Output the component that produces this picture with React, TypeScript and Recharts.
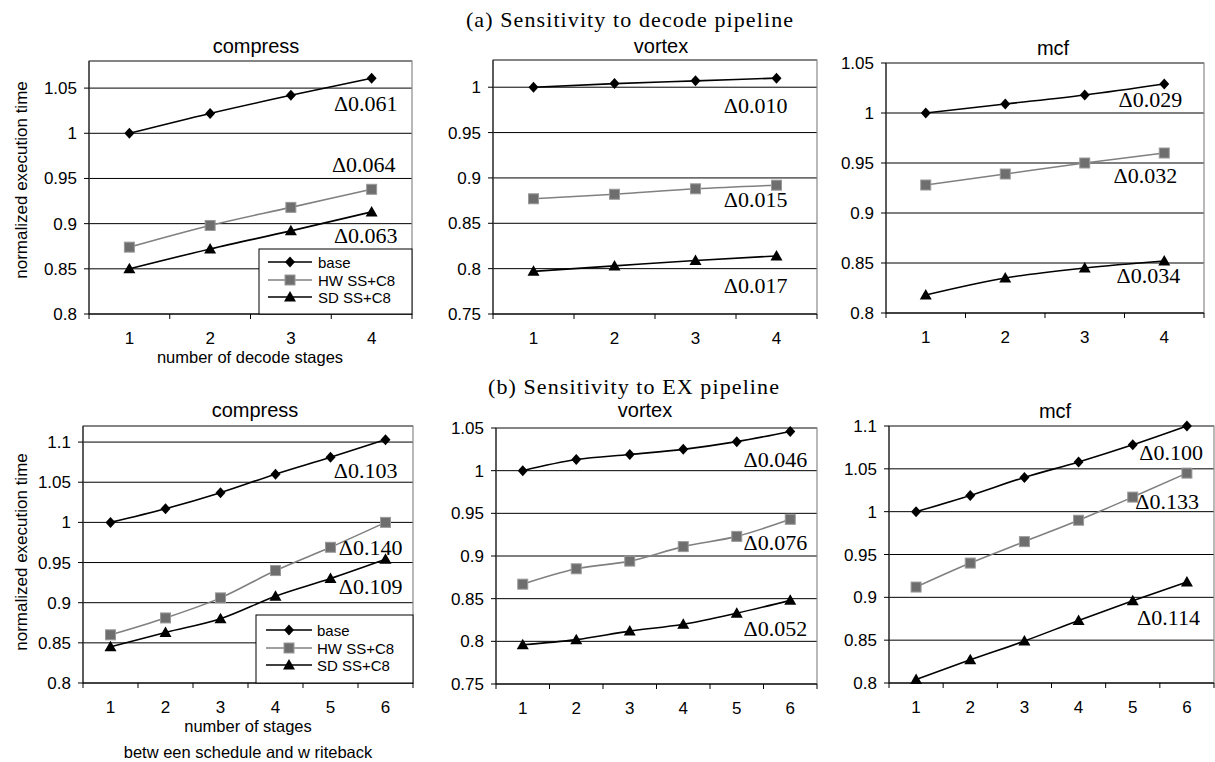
import React from "react";
import { LineChart, Line, XAxis, YAxis, CartesianGrid, ReferenceArea } from "recharts";

const SANS = "'Liberation Sans', Arial, sans-serif";
const SERIF = "'Liberation Serif', 'Times New Roman', serif";

// x categories
const decodeStages = [1, 2, 3, 4];
const exStages = [1, 2, 3, 4, 5, 6];

const seriesNames = ["base", "HW SS+C8", "SD SS+C8"];

// (a) decode pipeline
const compressDecodeBase = [1.0, 1.022, 1.042, 1.061];
const compressDecodeHW = [0.874, 0.898, 0.918, 0.938];
const compressDecodeSD = [0.85, 0.872, 0.892, 0.913];
const compressDecodeDelta = ["Δ0.061", "Δ0.064", "Δ0.063"];

const vortexDecodeBase = [1.0, 1.004, 1.007, 1.01];
const vortexDecodeHW = [0.877, 0.882, 0.888, 0.892];
const vortexDecodeSD = [0.797, 0.803, 0.809, 0.814];
const vortexDecodeDelta = ["Δ0.010", "Δ0.015", "Δ0.017"];

const mcfDecodeBase = [1.0, 1.009, 1.018, 1.029];
const mcfDecodeHW = [0.928, 0.939, 0.95, 0.96];
const mcfDecodeSD = [0.818, 0.835, 0.845, 0.852];
const mcfDecodeDelta = ["Δ0.029", "Δ0.032", "Δ0.034"];

// (b) EX pipeline
const compressExBase = [1.0, 1.017, 1.037, 1.06, 1.081, 1.103];
const compressExHW = [0.86, 0.881, 0.906, 0.94, 0.969, 1.0];
const compressExSD = [0.845, 0.863, 0.88, 0.908, 0.93, 0.954];
const compressExDelta = ["Δ0.103", "Δ0.140", "Δ0.109"];

const vortexExBase = [1.0, 1.013, 1.019, 1.025, 1.034, 1.046];
const vortexExHW = [0.867, 0.885, 0.894, 0.911, 0.923, 0.943];
const vortexExSD = [0.796, 0.802, 0.812, 0.82, 0.833, 0.848];
const vortexExDelta = ["Δ0.046", "Δ0.076", "Δ0.052"];

const mcfExBase = [1.0, 1.019, 1.04, 1.058, 1.078, 1.1];
const mcfExHW = [0.912, 0.94, 0.965, 0.99, 1.017, 1.045];
const mcfExSD = [0.804, 0.827, 0.849, 0.873, 0.896, 0.918];
const mcfExDelta = ["Δ0.100", "Δ0.133", "Δ0.114"];

// y axes
const ticksCompressA = [0.8, 0.85, 0.9, 0.95, 1, 1.05];
const ticksVortexA = [0.75, 0.8, 0.85, 0.9, 0.95, 1];
const ticksMcfA = [0.8, 0.85, 0.9, 0.95, 1, 1.05];
const ticksCompressB = [0.8, 0.85, 0.9, 0.95, 1, 1.05, 1.1];
const ticksVortexB = [0.75, 0.8, 0.85, 0.9, 0.95, 1, 1.05];
const ticksMcfB = [0.8, 0.85, 0.9, 0.95, 1, 1.05, 1.1];

const panels = [
  { title: "compress", stages: decodeStages, series: [compressDecodeBase, compressDecodeHW, compressDecodeSD], deltas: compressDecodeDelta, domain: [0.8, 1.08], ticks: ticksCompressA },
  { title: "vortex", stages: decodeStages, series: [vortexDecodeBase, vortexDecodeHW, vortexDecodeSD], deltas: vortexDecodeDelta, domain: [0.75, 1.03], ticks: ticksVortexA },
  { title: "mcf", stages: decodeStages, series: [mcfDecodeBase, mcfDecodeHW, mcfDecodeSD], deltas: mcfDecodeDelta, domain: [0.8, 1.05], ticks: ticksMcfA },
  { title: "compress", stages: exStages, series: [compressExBase, compressExHW, compressExSD], deltas: compressExDelta, domain: [0.8, 1.12], ticks: ticksCompressB },
  { title: "vortex", stages: exStages, series: [vortexExBase, vortexExHW, vortexExSD], deltas: vortexExDelta, domain: [0.75, 1.05], ticks: ticksVortexB },
  { title: "mcf", stages: exStages, series: [mcfExBase, mcfExHW, mcfExSD], deltas: mcfExDelta, domain: [0.8, 1.1], ticks: ticksMcfB },
];

// layout: plot rectangle, title spot, delta label offsets from last point
const layouts = [
  { l: 89, t: 61, r: 412, b: 314, titleX: 256, titleY: 53, off: [[26, 33], [24, -17], [26, 31]] },
  { l: 493, t: 60, r: 817, b: 314, titleX: 661, titleY: 53, off: [[11, 35], [11, 22], [11, 37]] },
  { l: 886, t: 63, r: 1204, b: 313, titleX: 1053, titleY: 55, off: [[18, 23], [13, 30], [16, 22]] },
  { l: 83, t: 426, r: 413, b: 683, titleX: 255, titleY: 417, off: [[12, 38], [17, 33], [17, 35]] },
  { l: 496, t: 428, r: 817, b: 684, titleX: 645, titleY: 417, off: [[17, 36], [17, 31], [17, 36]] },
  { l: 889, t: 426, r: 1214, b: 683, titleX: 1055, titleY: 418, off: [[16, 34], [12, 36], [13, 43]] },
];

const styles = [
  { key: "base", stroke: "#000", shape: "diamond" },
  { key: "hw", stroke: "#808080", shape: "square" },
  { key: "sd", stroke: "#000", shape: "triangle" },
];

const legends = [
  { panel: 0, x: 259, y: 249, w: 153, h: 65, rows: [262, 280, 297], x1: 268, x2: 312, tx: 318 },
  { panel: 3, x: 256, y: 615, w: 157, h: 68, rows: [630, 648, 665], x1: 266, x2: 312, tx: 317 },
];

function Marker({ shape, cx, cy }: { shape: string; cx: number; cy: number }) {
  if (shape === "diamond")
    return <polygon points={`${cx},${cy - 5.5} ${cx + 5},${cy} ${cx},${cy + 5.5} ${cx - 5},${cy}`} fill="#000" />;
  if (shape === "square")
    return <rect x={cx - 5} y={cy - 5} width={10} height={10} fill="#6e6e6e" stroke="#9a9a9a" strokeWidth={1} />;
  return <polygon points={`${cx},${cy - 6} ${cx + 6},${cy + 4.5} ${cx - 6},${cy + 4.5}`} fill="#000" />;
}

function Panel({ idx }: { idx: number }) {
  const p = panels[idx];
  const lay = layouts[idx];
  const n = p.stages.length;
  const data = p.stages.map((x, i) => ({ x, base: p.series[0][i], hw: p.series[1][i], sd: p.series[2][i] }));
  const yw = idx % 3 === 0 ? lay.l : 60;
  const mt = 10;
  const mr = 10;
  const xh = 50;
  const plotW = lay.r - lay.l;
  const plotH = lay.b - lay.t;
  const half = plotW / n / 2;

  const xTick = (props: any) => {
    const { x, y, payload } = props;
    return (
      <g>
        <line x1={x - half} x2={x - half} y1={y} y2={y + 5} stroke="#000" />
        {payload.value === n && <line x1={x + half} x2={x + half} y1={y} y2={y + 5} stroke="#000" />}
        <text x={x} y={y + 30} textAnchor="middle" fontFamily={SANS} fontSize={17} fill="#000">
          {payload.value}
        </text>
      </g>
    );
  };

  return (
    <div style={{ position: "absolute", left: lay.l - yw, top: lay.t - mt }}>
      <LineChart width={yw + plotW + mr} height={mt + plotH + xh} data={data} margin={{ top: mt, right: mr, left: 0, bottom: 0 }}>
        <CartesianGrid vertical={false} stroke="#000" strokeWidth={1} />
        <ReferenceArea x1={0.5} x2={n + 0.5} y1={p.domain[0]} y2={p.domain[1]} fill="none" stroke="#8a8a8a" strokeWidth={1.2} />
        <XAxis
          type="number"
          dataKey="x"
          domain={[0.5, n + 0.5]}
          ticks={p.stages}
          interval={0}
          height={xh}
          tickSize={0}
          tickMargin={0}
          tickLine={false}
          axisLine={{ stroke: "#000" }}
          tick={xTick}
        />
        <YAxis
          type="number"
          domain={p.domain}
          ticks={p.ticks}
          interval={0}
          width={yw}
          tickSize={5}
          tickMargin={7}
          axisLine={{ stroke: "#000" }}
          tickLine={{ stroke: "#000" }}
          tick={{ fill: "#000", fontSize: 17, fontFamily: SANS }}
        />
        {styles.map((s, si) => (
          <Line
            key={s.key}
            type="monotone"
            dataKey={s.key}
            stroke={s.stroke}
            strokeWidth={1.6}
            isAnimationActive={false}
            dot={(d: any) => (
              <g key={`${s.key}-${d.index}`}>
                <Marker shape={s.shape} cx={d.cx} cy={d.cy} />
                {d.index === n - 1 && (
                  <text
                    x={d.cx + lay.off[si][0]}
                    y={d.cy + lay.off[si][1]}
                    textAnchor="end"
                    fontFamily={SERIF}
                    fontSize={22}
                    fill="#000"
                  >
                    {p.deltas[si]}
                  </text>
                )}
              </g>
            )}
          />
        ))}
      </LineChart>
    </div>
  );
}

export default function App() {
  return (
    <div style={{ position: "absolute", left: 0, top: 0, width: 1215, height: 762, background: "#fff", overflow: "hidden" }}>
      {panels.map((_, i) => (
        <Panel key={i} idx={i} />
      ))}
      <svg width={1215} height={762} style={{ position: "absolute", left: 0, top: 0, pointerEvents: "none" }}>
        <text x={630} y={27} textAnchor="middle" fontFamily={SERIF} fontSize={22} letterSpacing={1.1} fill="#000">
          (a) Sensitivity to decode pipeline
        </text>
        <text x={634} y={394} textAnchor="middle" fontFamily={SERIF} fontSize={22} letterSpacing={1.1} fill="#000">
          (b) Sensitivity to EX pipeline
        </text>
        {panels.map((p, i) => (
          <text key={i} x={layouts[i].titleX} y={layouts[i].titleY} textAnchor="middle" fontFamily={SANS} fontSize={20} fill="#000">
            {p.title}
          </text>
        ))}
        <text transform="translate(27,180) rotate(-90)" textAnchor="middle" fontFamily={SANS} fontSize={17} fill="#000">
          normalized execution time
        </text>
        <text transform="translate(27,552) rotate(-90)" textAnchor="middle" fontFamily={SANS} fontSize={17} fill="#000">
          normalized execution time
        </text>
        <text x={250} y={363} textAnchor="middle" fontFamily={SANS} fontSize={16.5} fill="#000">
          number of decode stages
        </text>
        <text x={248} y={732} textAnchor="middle" fontFamily={SANS} fontSize={16.5} fill="#000">
          number of stages
        </text>
        <text x={248} y={758} textAnchor="middle" fontFamily={SANS} fontSize={16.5} fill="#000">
          betw een schedule and w riteback
        </text>
        {legends.map((lg, li) => (
          <g key={li}>
            <rect x={lg.x} y={lg.y} width={lg.w} height={lg.h} fill="#fff" stroke="#000" strokeWidth={1} />
            {styles.map((s, si) => (
              <g key={s.key}>
                <line x1={lg.x1} x2={lg.x2} y1={lg.rows[si]} y2={lg.rows[si]} stroke={s.stroke} strokeWidth={1.6} />
                <Marker shape={s.shape} cx={(lg.x1 + lg.x2) / 2} cy={lg.rows[si]} />
                <text x={lg.tx} y={lg.rows[si] + 5.5} fontFamily={SANS} fontSize={15} fill="#000">
                  {seriesNames[si]}
                </text>
              </g>
            ))}
          </g>
        ))}
      </svg>
    </div>
  );
}
